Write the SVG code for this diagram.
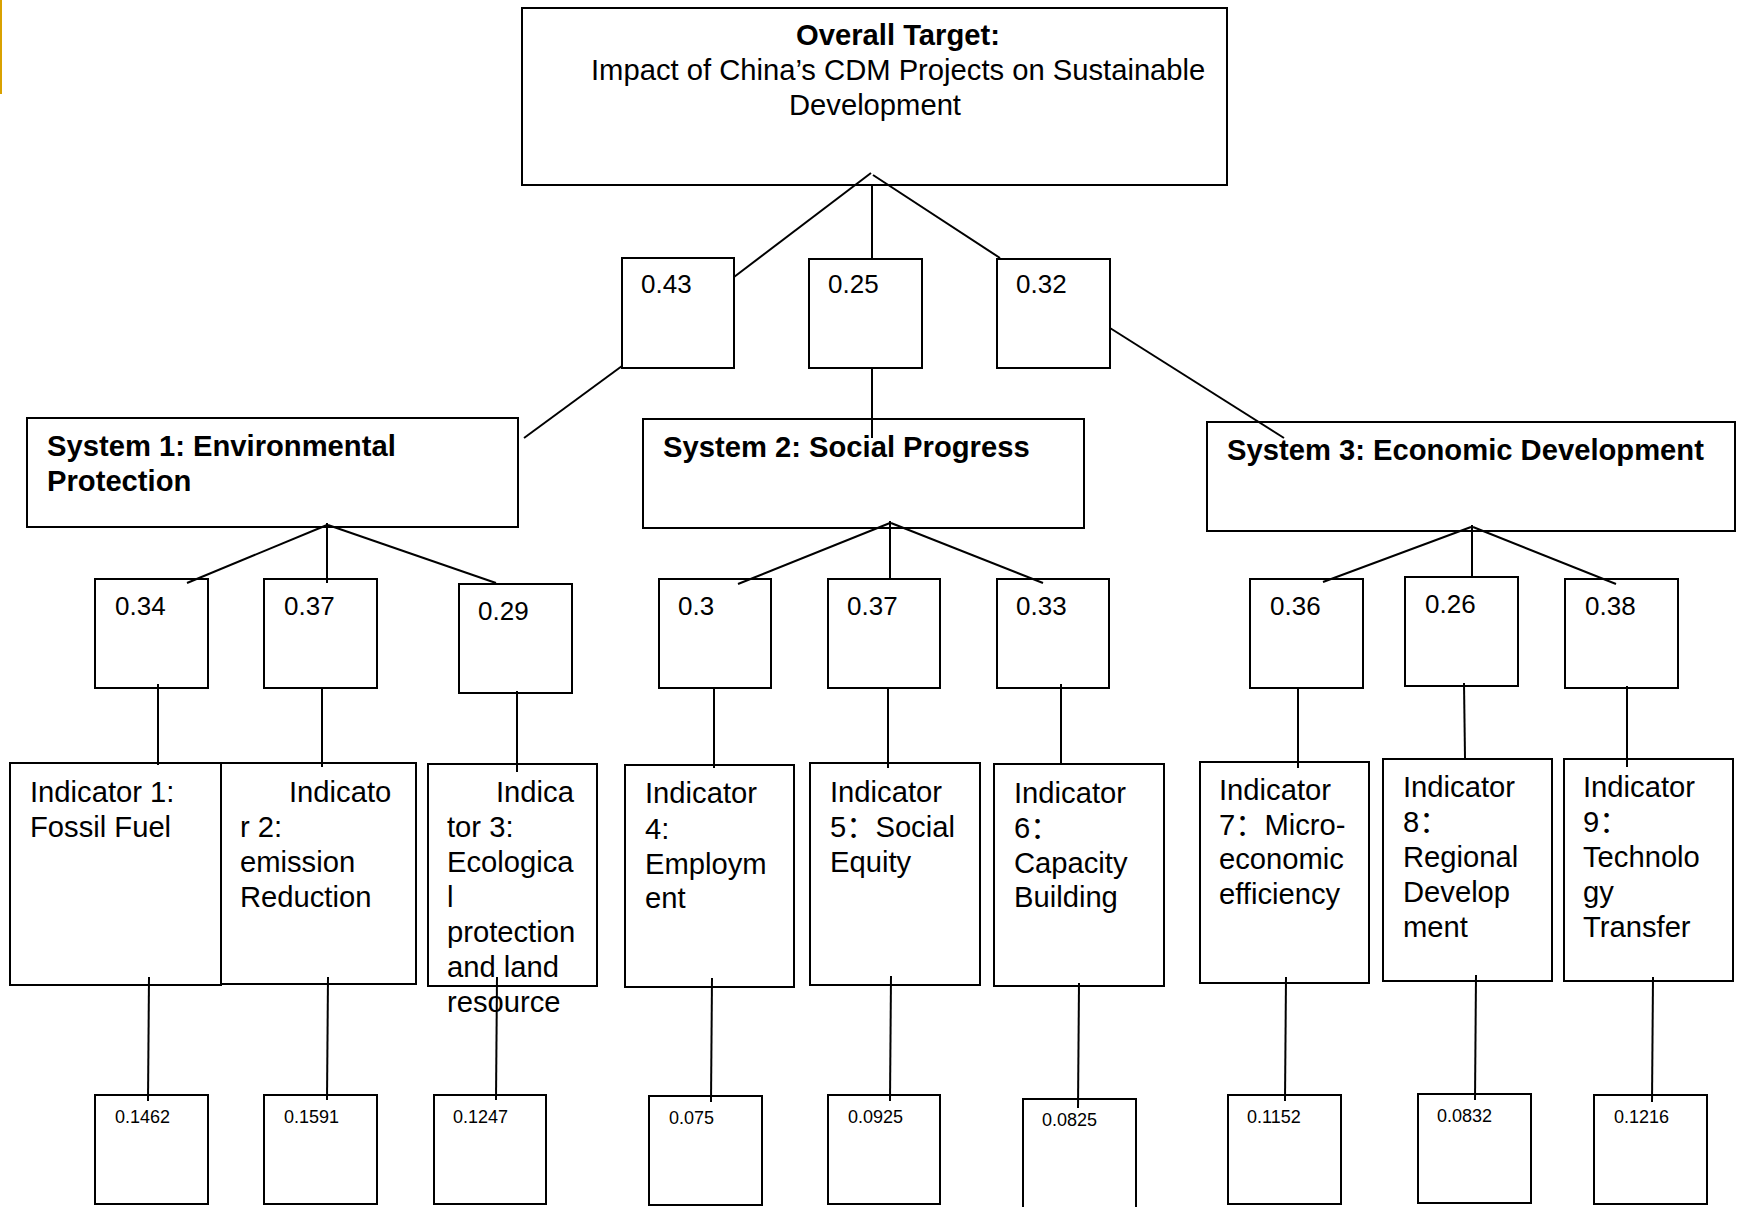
<svg xmlns="http://www.w3.org/2000/svg" width="1742" height="1207" viewBox="0 0 1742 1207">
<style>
.box{fill:#fff;stroke:#000;stroke-width:2}
.ln{stroke:#000;stroke-width:2;fill:none}
text{font-family:"Liberation Sans",Arial,"Noto Sans CJK SC",sans-serif;fill:#000}
.t{font-size:29.2px}
.b{font-size:29.2px;font-weight:bold}
.w{font-size:26px}
.s{font-size:18px}
</style>
<rect x="0" y="0" width="1742" height="1207" fill="#fff"/>
<rect x="0" y="0" width="2" height="94" fill="#D9A100"/>

<g id="top">
<rect class="box" x="522" y="8" width="705" height="177"/>
<text class="b" x="898" y="45" text-anchor="middle">Overall Target:</text>
<text class="t" x="591" y="80">Impact of China’s CDM Projects on Sustainable</text>
<text class="t" x="875" y="115" text-anchor="middle">Development</text>
</g>

<g id="w1"><rect class="box" x="622" y="258" width="112" height="110"/><text class="w" x="641" y="293">0.43</text></g>
<g id="w2"><rect class="box" x="809" y="259" width="113" height="109"/><text class="w" x="828" y="293">0.25</text></g>
<g id="w3"><rect class="box" x="997" y="259" width="113" height="109"/><text class="w" x="1016" y="293">0.32</text></g>

<g id="sys1"><rect class="box" x="27" y="418" width="491" height="109"/>
<text class="b" x="47" y="456">System 1: Environmental</text>
<text class="b" x="47" y="491">Protection</text></g>
<g id="sys2"><rect class="box" x="643" y="419" width="441" height="109"/>
<text class="b" x="663" y="457">System 2: Social Progress</text></g>
<g id="sys3"><rect class="box" x="1207" y="422" width="528" height="109"/>
<text class="b" x="1227" y="460">System 3: Economic Development</text></g>

<g id="w11"><rect class="box" x="95" y="579" width="113" height="109"/><text class="w" x="115" y="615">0.34</text></g>
<g id="w12"><rect class="box" x="264" y="579" width="113" height="109"/><text class="w" x="284" y="615">0.37</text></g>
<g id="w13"><rect class="box" x="459" y="584" width="113" height="109"/><text class="w" x="478" y="620">0.29</text></g>
<g id="w21"><rect class="box" x="659" y="579" width="112" height="109"/><text class="w" x="678" y="615">0.3</text></g>
<g id="w22"><rect class="box" x="828" y="579" width="112" height="109"/><text class="w" x="847" y="615">0.37</text></g>
<g id="w23"><rect class="box" x="997" y="579" width="112" height="109"/><text class="w" x="1016" y="615">0.33</text></g>
<g id="w31"><rect class="box" x="1250" y="579" width="113" height="109"/><text class="w" x="1270" y="615">0.36</text></g>
<g id="w32"><rect class="box" x="1405" y="577" width="113" height="109"/><text class="w" x="1425" y="613">0.26</text></g>
<g id="w33"><rect class="box" x="1565" y="579" width="113" height="109"/><text class="w" x="1585" y="615">0.38</text></g>

<g id="ind1"><rect class="box" x="10" y="763" width="211" height="222"/>
<text class="t" x="30" y="802">Indicator 1:</text>
<text class="t" x="30" y="837">Fossil Fuel</text></g>
<g id="ind2"><rect class="box" x="221" y="763" width="195" height="221"/>
<text class="t" x="289" y="802">Indicato</text>
<text class="t" x="240" y="837">r 2:</text>
<text class="t" x="240" y="872">emission</text>
<text class="t" x="240" y="907">Reduction</text></g>
<g id="ind3"><rect class="box" x="428" y="764" width="169" height="222" style="fill:none"/>
<text class="t" x="496" y="802">Indica</text>
<text class="t" x="447" y="837">tor 3:</text>
<text class="t" x="447" y="872">Ecologica</text>
<text class="t" x="447" y="907">l</text>
<text class="t" x="447" y="942">protection</text>
<text class="t" x="447" y="977">and land</text>
<text class="t" x="447" y="1012">resource</text></g>
<g id="ind4"><rect class="box" x="625" y="765" width="169" height="222"/>
<text class="t" x="645" y="803">Indicator</text>
<text class="t" x="645" y="839">4:</text>
<text class="t" x="645" y="874">Employm</text>
<text class="t" x="645" y="908">ent</text></g>
<g id="ind5"><rect class="box" x="810" y="763" width="170" height="222"/>
<text class="t" x="830" y="802">Indicator</text>
<text class="t" x="830" y="837">5：Social</text>
<text class="t" x="830" y="872">Equity</text></g>
<g id="ind6"><rect class="box" x="994" y="764" width="170" height="222"/>
<text class="t" x="1014" y="803">Indicator</text>
<text class="t" x="1014" y="838">6：</text>
<text class="t" x="1014" y="873">Capacity</text>
<text class="t" x="1014" y="907">Building</text></g>
<g id="ind7"><rect class="box" x="1200" y="762" width="169" height="221"/>
<text class="t" x="1219" y="800">Indicator</text>
<text class="t" x="1219" y="835">7：Micro-</text>
<text class="t" x="1219" y="869">economic</text>
<text class="t" x="1219" y="904">efficiency</text></g>
<g id="ind8"><rect class="box" x="1383" y="759" width="169" height="222"/>
<text class="t" x="1403" y="797">Indicator</text>
<text class="t" x="1403" y="832">8：</text>
<text class="t" x="1403" y="867">Regional</text>
<text class="t" x="1403" y="902">Develop</text>
<text class="t" x="1403" y="937">ment</text></g>
<g id="ind9"><rect class="box" x="1564" y="759" width="169" height="222"/>
<text class="t" x="1583" y="797">Indicator</text>
<text class="t" x="1583" y="832">9：</text>
<text class="t" x="1583" y="867">Technolo</text>
<text class="t" x="1583" y="902">gy</text>
<text class="t" x="1583" y="937">Transfer</text></g>

<g id="v1"><rect class="box" x="95" y="1095" width="113" height="109"/><text class="s" x="115" y="1123">0.1462</text></g>
<g id="v2"><rect class="box" x="264" y="1095" width="113" height="109"/><text class="s" x="284" y="1123">0.1591</text></g>
<g id="v3"><rect class="box" x="434" y="1095" width="112" height="109"/><text class="s" x="453" y="1123">0.1247</text></g>
<g id="v4"><rect class="box" x="649" y="1096" width="113" height="109"/><text class="s" x="669" y="1124">0.075</text></g>
<g id="v5"><rect class="box" x="828" y="1095" width="112" height="109"/><text class="s" x="848" y="1123">0.0925</text></g>
<g id="v6"><rect class="box" x="1023" y="1099" width="113" height="120"/><text class="s" x="1042" y="1126">0.0825</text></g>
<g id="v7"><rect class="box" x="1228" y="1095" width="113" height="109"/><text class="s" x="1247" y="1123">0.1152</text></g>
<g id="v8"><rect class="box" x="1418" y="1094" width="113" height="109"/><text class="s" x="1437" y="1122">0.0832</text></g>
<g id="v9"><rect class="box" x="1594" y="1095" width="113" height="109"/><text class="s" x="1614" y="1123">0.1216</text></g>

<g id="connectors" class="ln">
<line x1="871" y1="173" x2="734" y2="277"/>
<line x1="872" y1="185" x2="872" y2="258"/>
<line x1="873" y1="175" x2="1000" y2="258"/>
<line x1="622" y1="366" x2="524" y2="438"/>
<line x1="872" y1="368" x2="872" y2="438"/>
<line x1="1110" y1="328" x2="1284" y2="438"/>

<line x1="327" y1="525" x2="187" y2="583"/>
<line x1="327" y1="523" x2="327" y2="583"/>
<line x1="328" y1="525" x2="496" y2="583"/>
<line x1="890" y1="523" x2="738" y2="584"/>
<line x1="890" y1="521" x2="890" y2="578"/>
<line x1="891" y1="523" x2="1043" y2="583"/>
<line x1="1471" y1="527" x2="1323" y2="582"/>
<line x1="1472" y1="525" x2="1472" y2="578"/>
<line x1="1473" y1="527" x2="1616" y2="584"/>

<line x1="158" y1="684" x2="158" y2="765"/>
<line x1="322" y1="687" x2="322" y2="767"/>
<line x1="517" y1="691" x2="517" y2="772"/>
<line x1="714" y1="688" x2="714" y2="768"/>
<line x1="888" y1="688" x2="888" y2="768"/>
<line x1="1061" y1="684" x2="1061" y2="764"/>
<line x1="1298" y1="688" x2="1298" y2="768"/>
<line x1="1464" y1="683" x2="1465" y2="758"/>
<line x1="1627" y1="686" x2="1627" y2="767"/>

<line x1="149" y1="977" x2="148" y2="1101"/>
<line x1="328" y1="977" x2="327" y2="1100"/>
<line x1="497" y1="977" x2="496" y2="1100"/>
<line x1="712" y1="978" x2="711" y2="1102"/>
<line x1="891" y1="976" x2="890" y2="1101"/>
<line x1="1079" y1="983" x2="1078" y2="1108"/>
<line x1="1286" y1="977" x2="1285" y2="1101"/>
<line x1="1476" y1="975" x2="1475" y2="1100"/>
<line x1="1653" y1="977" x2="1652" y2="1102"/>
</g>
</svg>
